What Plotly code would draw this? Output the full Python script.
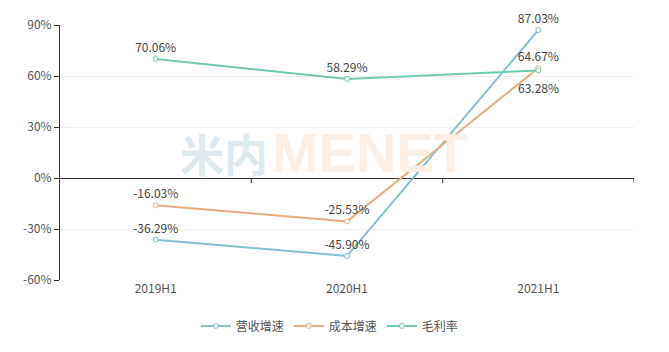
import plotly.graph_objects as go

categories = ["2019H1", "2020H1", "2021H1"]
revenue_growth = [-36.29, -45.90, 87.03]
cost_growth = [-16.03, -25.53, 64.67]
gross_margin = [70.06, 58.29, 63.28]
series_names = ["营收增速", "成本增速", "毛利率"]
colors = ["#82c0d2", "#e9ad80", "#6fcba6"]
y_ticks = [-60, -30, 0, 30, 60, 90]

FONT = "Noto Sans CJK SC, Microsoft YaHei, sans-serif"

fig = go.Figure()
series = [revenue_growth, cost_growth, gross_margin]
below = [set(), set(), {2}]
for name, vals, col, bl in zip(series_names, series, colors, below):
    fig.add_trace(go.Scatter(
        x=categories, y=vals, name=name, mode="lines+markers+text",
        line=dict(color=col, width=2),
        marker=dict(symbol="circle", size=5, color="white", line=dict(color=col, width=1)),
        text=["" if i in bl else f"{v:.2f}%" for i, v in enumerate(vals)],
        textposition="top center",
        textfont=dict(family=FONT, size=12, color="#444"),
        cliponaxis=False,
    ))
    for i in bl:
        fig.add_annotation(x=categories[i], y=vals[i], text=f"{vals[i]:.2f}%",
                           showarrow=False, yshift=-17,
                           font=dict(family=FONT, size=12, color="#444"))

# watermark
fig.add_annotation(xref="paper", yref="paper", x=0.205, y=0.50, text="<b>米内</b>",
                   showarrow=False, xanchor="left", yanchor="middle",
                   font=dict(family=FONT, size=44, color="#dde9ee"))
fig.add_annotation(xref="paper", yref="paper", x=0.365, y=0.50, text="<b>MENET</b>",
                   showarrow=False, xanchor="left", yanchor="middle",
                   font=dict(family="Liberation Sans, Arial, sans-serif", size=56, color="#fcefe5"))

# x-axis ticks at category boundaries on the zero line
for b in [0.5, 1.5, 2.5]:
    fig.add_shape(type="line", xref="x", yref="y", x0=b, x1=b,
                  ysizemode="pixel", yanchor=0, y0=0, y1=-5,
                  line=dict(color="#333", width=1))

fig.update_layout(
    width=669, height=352,
    margin=dict(l=60, r=35, t=25, b=72),
    paper_bgcolor="white", plot_bgcolor="white",
    font=dict(family=FONT, size=12, color="#555"),
    showlegend=True,
    legend=dict(orientation="h", x=0.47, xanchor="center", y=-0.18, yanchor="middle",
                font=dict(family=FONT, size=12, color="#555"), itemwidth=30),
    xaxis=dict(type="category", range=[-0.5, 2.5], showgrid=False, showline=False,
               ticks="", tickfont=dict(family=FONT, size=12, color="#555"),
               zeroline=False, fixedrange=True),
    yaxis=dict(range=[-60, 90], tickvals=y_ticks, ticktext=[f"{v}%" for v in y_ticks],
               showgrid=True, gridcolor="#eeeeee", gridwidth=1,
               zeroline=True, zerolinecolor="#333", zerolinewidth=1,
               showline=True, linecolor="#333", linewidth=1,
               ticks="outside", ticklen=5, tickcolor="#333",
               tickfont=dict(family=FONT, size=12, color="#555")),
)

fig.write_html("out.html")
